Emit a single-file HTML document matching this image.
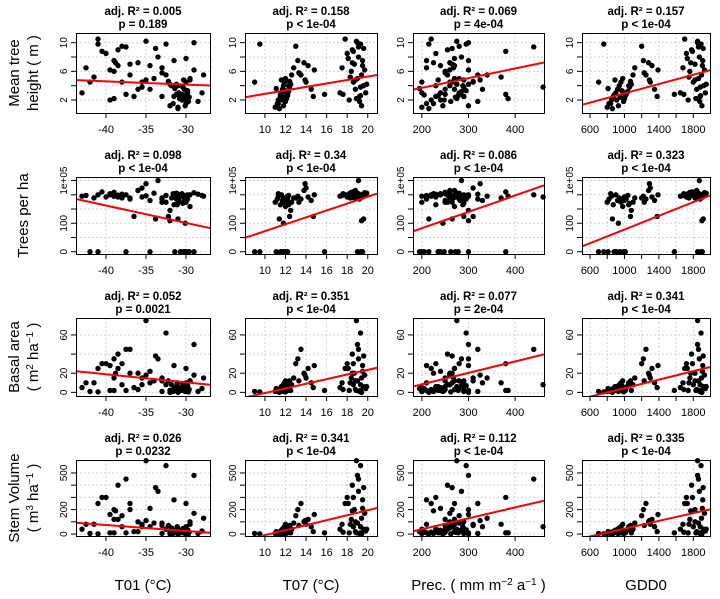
<!DOCTYPE html>
<html><head><meta charset="utf-8"><style>
body{margin:0;background:#fff;}
svg{display:block;font-family:"Liberation Sans",Arial,sans-serif;}
</style></head><body>
<svg id="chart" width="720" height="599" viewBox="0 0 720 599" xmlns="http://www.w3.org/2000/svg"></svg>
<script>
// ---- observations (shared across panels) ----
const t01 = [-31,-30,-30.5,-31.5,-29.8,-30.2,-31.8,-30,-29.5,-30.8,-31.2,-29.9,-30.4,-32,-31,-30.1,-29.7,-30.6,-31.4,-30.3,-32.5,-33,-29.6,-30.9,-31.6,-30,-31.1,-29.8,-30.7,-32.2,
 -38,-39,-37,-36,-35.5,-38.5,-34.5,-36.5,-33,-35,-39.5,-37.5,-42,-41,
 -43,-42.5,-41,-40,-39.5,-39,-38.5,-38,-37,-36,-35,-34,-33.5,-33,-32.5,-32,-31.5,-31,-29,-28,-41.5,-40.5,-39,-37.5,-35.5,-34.5,-30.5,-30,-29.5,-29,-28.5,-27.8,-33.8,-31.2,-38.8,-30.2];
const t07 = [11.0,11.2,11.3,11.5,11.6,11.7,11.8,11.9,12.0,12.1,12.2,12.3,12.4,12.5,11.4,11.8,12.0,12.2,11.1,11.6,12.6,12.8,11.9,12.1,11.3,11.7,12.3,12.0,11.5,12.4,
 13.0,13.2,13.5,13.8,14.0,14.2,14.5,14.7,13.3,13.9,14.8,15.8,9.0,9.5,
 17.3,17.5,17.8,18.0,18.2,18.4,18.5,18.6,18.7,18.8,18.9,19.0,19.1,19.2,19.3,19.4,19.5,19.6,19.7,19.8,18.3,18.6,18.9,19.1,19.3,19.5,17.6,18.1,18.8,19.0,19.2,19.4,19.6,19.9,18.5,19.3];
const prec = [200,210,220,230,240,250,260,265,270,275,280,285,290,300,215,245,262,278,195,235,255,268,272,282,225,248,288,295,205,310,
 280,300,320,260,310,270,330,290,250,325,300,380,200,215,
 200,210,220,230,240,250,255,260,265,270,275,280,285,290,295,300,210,230,260,280,370,380,385,440,460,240,250,270,290,300,320,340,265,275,225,235];
const gdd = [800,820,850,870,900,920,940,960,980,1000,1020,1040,1060,1080,860,930,990,1010,810,890,1100,1120,950,1000,840,910,1050,970,880,1070,
 1200,1220,1250,1280,1300,1320,1350,1380,1230,1290,1390,1580,700,760,
 1650,1680,1700,1720,1740,1760,1780,1800,1820,1840,1850,1860,1870,1880,1890,1900,1910,1920,1930,1940,1750,1790,1830,1860,1880,1905,1690,1730,1820,1850,1875,1895,1915,1950,1770,1885];
const heightM = [1.0,1.5,2.0,2.5,3.0,3.5,4.0,4.5,5.0,2.2,2.8,3.2,3.8,4.2,0.8,1.2,1.8,2.6,3.6,4.8,5.5,6.5,2.4,3.0,1.5,2.0,4.0,3.3,2.7,4.6,
 9.5,7.5,5.5,7.2,4.5,6.8,3.5,2.5,5.8,4.8,6.2,2.8,4.5,9.8,
 3.0,6.5,10.5,8.5,2.0,6.0,9.0,4.5,7.0,3.5,10.2,5.0,8.0,2.5,9.8,1.2,7.5,4.0,6.2,3.0,5.2,8.8,2.2,9.4,3.8,6.8,2.8,7.8,4.8,10.0,1.8,5.5,9.2,4.2,7.2,2.6];
const trees = [3000,5000,8000,2000,10000,4000,6000,3000,1500,7000,5000,9000,2500,800,200,100,0,0,0,0,3000,6000,0,4000,12000,0,2000,5000,0,300,
 6000,8000,5000,20000,30000,7000,4000,300,3000,60000,10000,0,0,0,
 8000,9000,10000,7000,12000,15000,9500,11000,6000,20000,8500,13000,100000,5000,9000,150,7000,11000,14000,9000,6000,16000,8000,10000,7000,0,12000,9000,10000,0,11000,8000,200,13000,9000,0];
const basal = [1,2,3,4,5,6,8,10,12,3,5,7,9,2,0,1,0.5,2,4,6,8,15,3,5,1,2,10,7,4,12,
 30,35,45,20,15,25,10,5,12,18,28,2,1,0.5,
 5,10,25,30,2,15,40,8,20,3,75,12,35,1,62,0,28,6,18,4,10,30,2,45,8,22,3,25,12,50,1,15,38,6,20,2];
const volume = [5,10,15,20,30,40,50,60,80,15,25,35,45,10,0,3,2,10,20,30,40,90,15,25,5,10,60,35,20,70,
 150,200,250,100,80,120,60,20,70,110,160,10,5,2,
 40,80,250,300,10,120,400,60,200,20,600,90,350,5,560,0,280,40,170,25,80,300,10,450,60,210,15,250,100,480,5,130,380,40,190,10];
// ---- fitted lines (intercept, slope) per row x col, in axis units ----
const fitRow1 = [[2.82,-0.0446],[0.45,0.241],[1.0,0.0135],[-0.32,0.00325]];
const fitRow2 = [[-1.65,-0.1224],[-0.98,0.2425],[-0.65,0.0115],[-0.85,0.00241]];
const fitRow3 = [[-15.0,-0.848],[-24.9,2.42],[-15.5,0.1195],[-17.8,0.0222]];
const fitRow4 = [[-122,-4.9],[-213,20.4],[-138,0.89],[-115,0.159]];
const r2Labels = [["0.005","0.158","0.069","0.157"],["0.098","0.34","0.086","0.323"],["0.052","0.351","0.077","0.341"],["0.026","0.341","0.112","0.335"]];
const pLabels = [["=  0.189","<  1e-04","=  4e-04","<  1e-04"],["<  1e-04","<  1e-04","<  1e-04","<  1e-04"],["=  0.0021","<  1e-04","=  2e-04","<  1e-04"],["=  0.0232","<  1e-04","<  1e-04","<  1e-04"]];
const xTickVals = [[-40,-35,-30],[10,12,14,16,18,20],[200,300,400],[600,800,1000,1200,1400,1600,1800]];
const xTickLabelVals = [[-40,-35,-30],[10,12,14,16,18,20],[200,300,400],[600,1000,1400,1800]];
const yTickVals = [[2,4,6,8,10],[0,1,2,3,4,5],[0,20,40,60],[0,100,200,300,400,500]];
const yTickLabels = [["2","","6","","10"],["0","","100","","","1e+05"],["0","20","","60"],["0","","200","","","500"]];

const svg = document.getElementById('chart');
const NS = 'http://www.w3.org/2000/svg';
function mk(tag, attrs, parent){const e=document.createElementNS(NS,tag);for(const k in attrs)e.setAttribute(k,attrs[k]);(parent||svg).appendChild(e);return e;}

const colX = [76,245,413,582], colW = [134,132,131,128];
const rowY = [33,177,318,460], rowH = [80,77,78,76];
const xDom = [[-43.75,-27],[8.06,20.9],[181,462],[507,1994]];
const yDom = [[0.19,11.35],[-0.16,5.25],[-3.8,77.7],[-16,606]];
const xVars = [t01,t07,prec,gdd];
const yVars = [heightM, trees.map(v=>Math.log10(v+1)), basal, volume];
const fits = [fitRow1,fitRow2,fitRow3,fitRow4];
const colNames = ['t01','t07','prec','gdd0'];
const rowNames = ['height','trees','basal','volume'];

for(let r=0;r<4;r++){
 for(let c=0;c<4;c++){
  const x0=colX[c], y0=rowY[r], w=colW[c], h=rowH[r];
  const sx=v=>x0+(v-xDom[c][0])/(xDom[c][1]-xDom[c][0])*w;
  const sy=v=>y0+h-(v-yDom[r][0])/(yDom[r][1]-yDom[r][0])*h;
  const g=mk('g',{});
  
  
  const cid='clip'+r+c;
  const cp=mk('clipPath',{id:cid},g); mk('rect',{x:x0,y:y0,width:w,height:h},cp);
  // grid
  xTickVals[c].forEach(v=>{const l=mk('line',{x1:sx(v),x2:sx(v),y1:y0,y2:y0+h,stroke:'#d3d3d3','stroke-dasharray':'2,2','stroke-width':1},g);
    });
  yTickVals[r].forEach(v=>{const l=mk('line',{x1:x0,x2:x0+w,y1:sy(v),y2:sy(v),stroke:'#d3d3d3','stroke-dasharray':'2,2','stroke-width':1},g);
    });
  // points
  const xs=xVars[c], ys=yVars[r];
  for(let i=0;i<xs.length;i++){
    const p=mk('circle',{cx:sx(xs[i]),cy:sy(ys[i]),r:2.7,fill:'#000'},g);
    
    
  }
  // fit line
  const f=fits[r][c];
  const fl=mk('line',{x1:sx(xDom[c][0]),y1:sy(f[0]+f[1]*xDom[c][0]),x2:sx(xDom[c][1]),y2:sy(f[0]+f[1]*xDom[c][1]),stroke:'#ff0000','stroke-width':2,'clip-path':'url(#'+cid+')'},g);
  
  
  // box
  const b=mk('rect',{x:x0+0.5,y:y0+0.5,width:w,height:h,fill:'none',stroke:'#000','stroke-width':1},g);
  
  
  // x ticks
  xTickVals[c].forEach(v=>{mk('line',{x1:sx(v),x2:sx(v),y1:y0+h,y2:y0+h+5,stroke:'#000'},g);});
  xTickLabelVals[c].forEach(v=>{const t=mk('text',{x:sx(v),y:y0+h+20,'font-size':11,'text-anchor':'middle',fill:'#000'},g);t.textContent=String(v).replace('-','\u2212').replace('\u2212','-');
    });
  // y ticks
  yTickVals[r].forEach((v,i)=>{mk('line',{x1:x0-5,x2:x0,y1:sy(v),y2:sy(v),stroke:'#000'},g);
    const lab=yTickLabels[r][i]; if(lab){const yy=sy(v);const t=mk('text',{x:x0-9,y:yy,'font-size':10,'text-anchor':'middle',fill:'#000',transform:'rotate(-90 '+(x0-9)+' '+yy+')'},g);t.textContent=lab;
      }});
  // titles
  const cx=x0+w/2;
  const t1=mk('text',{x:cx,y:y0-18,'font-size':11.5,'font-weight':'bold','text-anchor':'middle'},g);
  t1.textContent='adj. R\u00b2 =  '+r2Labels[r][c];
  
  const t2=mk('text',{x:cx,y:y0-5,'font-size':11.5,'font-weight':'bold','text-anchor':'middle'},g);
  t2.textContent='p  '+pLabels[r][c];
  
 }
}
// row titles
const rowTitles=[["Mean tree","height ( m )"],["Trees per ha"],["Basal area","( m<tspan baseline-shift='super' font-size='10'>2</tspan> ha<tspan baseline-shift='super' font-size='10'>\u22121</tspan> )"],["Stem Volume","( m<tspan baseline-shift='super' font-size='10'>3</tspan> ha<tspan baseline-shift='super' font-size='10'>\u22121</tspan> )"]];
rowTitles.forEach((lines,r)=>{
  const cy=rowY[r]+rowH[r]/2;
  const xs=lines.length===2?[19,38]:[28];
  lines.forEach((s,i)=>{const t=mk('text',{x:xs[i],y:cy,'font-size':15,'text-anchor':'middle',transform:'rotate(-90 '+xs[i]+' '+cy+')'});t.innerHTML=s;
    });
});
// column titles
const colTitles=["T01 (\u00b0C)","T07 (\u00b0C)","Prec. ( mm m<tspan baseline-shift='super' font-size='10'>\u22122</tspan> a<tspan baseline-shift='super' font-size='10'>\u22121</tspan> )","GDD0"];
colTitles.forEach((s,c)=>{const t=mk('text',{x:colX[c]+colW[c]/2,y:590,'font-size':15,'text-anchor':'middle'});t.innerHTML=s;
  });
</script>
</body></html>
